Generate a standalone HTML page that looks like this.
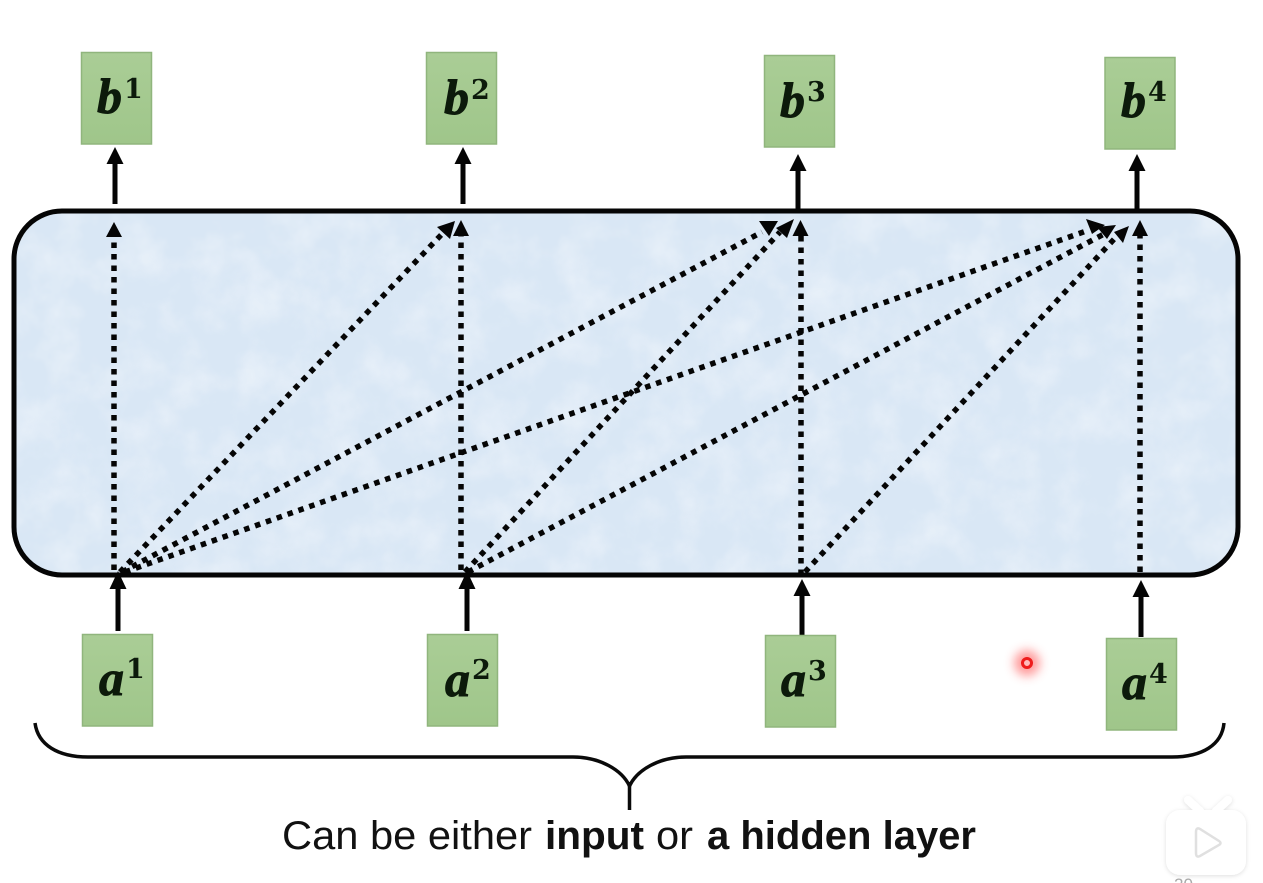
<!DOCTYPE html>
<html>
<head>
<meta charset="utf-8">
<style>
html,body{margin:0;padding:0;background:#fff;width:1263px;height:883px;overflow:hidden}
svg{display:block}
.m{font-family:"Liberation Serif","DejaVu Serif",serif;font-weight:bold;font-style:italic;font-size:50px;fill:#0c1a0b;stroke:#0c1a0b;stroke-width:.9}
.s{font-family:"DejaVu Serif","Liberation Serif",serif;font-weight:bold;font-size:27px;fill:#0c1a0b}
.c{font-family:"Liberation Sans",sans-serif;font-size:40px;fill:#111}
.d{stroke:#050505;stroke-width:5.500;stroke-dasharray:5.500 6;fill:none}
.a{stroke:#050505;stroke-width:5;fill:none}
</style>
</head>
<body>
<svg width="1263" height="883" viewBox="0 0 1263 883" xmlns="http://www.w3.org/2000/svg">
<defs>
<linearGradient id="g" x1="0" y1="0" x2="0" y2="1"><stop offset="0" stop-color="#aacd96"/><stop offset="1" stop-color="#9fc68a"/></linearGradient>
<filter id="n" x="0" y="0" width="100%" height="100%"><feTurbulence type="fractalNoise" baseFrequency="0.025" numOctaves="4" seed="7"/><feColorMatrix values="0 0 0 0 1  0 0 0 0 1  0 0 0 0 1  0 0 0 1.800 -0.700"/></filter>
<filter id="b" x="-100%" y="-100%" width="300%" height="300%"><feGaussianBlur stdDeviation="5"/></filter>
<filter id="sh" x="-20%" y="-20%" width="140%" height="140%"><feDropShadow dx="0" dy="1" stdDeviation="2" flood-color="#000" flood-opacity=".13"/></filter>
<clipPath id="r"><rect x="14" y="211" width="1224" height="364" rx="48"/></clipPath>
</defs>

<rect x="14" y="211" width="1224" height="364" rx="48" fill="#d9e7f5"/>
<g clip-path="url(#r)"><rect x="14" y="211" width="1224" height="364" filter="url(#n)" opacity=".4"/></g>

<g>
<path class="d" d="M114 570V236"/>
<path class="d" d="M120 572L442 234"/>
<path class="d" d="M122 572L762 232"/>
<path class="d" d="M125 572L1089 230"/>
<path class="d" d="M461 570V236"/>
<path class="d" d="M465 572L780 232"/>
<path class="d" d="M468 572L1104 234"/>
<path class="d" d="M801 575V236"/>
<path class="d" d="M805 572L1117 236"/>
<path class="d" d="M1140 572V236"/>
</g>
<g fill="#050505">
<path d="M114 222l8 15h-16z"/>
<path d="M461 220l8 16h-16z"/>
<path d="M800.500 220l8 16h-16z"/>
<path d="M1140 220l8 16h-16z"/>
<path d="M455 221l-5 18-13-12z"/>
<path d="M759 221h19l-9 15z"/>
<path d="M794 219l-7 19-11-10z"/>
<path d="M1105 225l-19-6 6 15z"/>
<path d="M1116 225l-19 2 10 12z"/>
<path d="M1129 226l-15 6 9 11z"/>
</g>

<rect x="14" y="211" width="1224" height="364" rx="48" fill="none" stroke="#050505" stroke-width="5"/>

<g>
<path class="a" d="M115 204V164"/>
<path class="a" d="M463 204V164"/>
<path class="a" d="M798 209V170"/>
<path class="a" d="M1137 209V170"/>
<path class="a" d="M118 631V586"/>
<path class="a" d="M467 631V586"/>
<path class="a" d="M802 635V595"/>
<path class="a" d="M1141 637V596"/>
</g>
<g fill="#050505">
<path d="M115 147l8.500 17h-17z"/>
<path d="M463 147l8.500 17h-17z"/>
<path d="M798 154l8.500 17h-17z"/>
<path d="M1137 154l8.500 17h-17z"/>
<path d="M118 571l8.500 18h-17z"/>
<path d="M467 571l8.500 18h-17z"/>
<path d="M802 579l8.500 17h-17z"/>
<path d="M1141 580l8.500 17h-17z"/>
</g>

<g fill="url(#g)" stroke="#90b57d" stroke-width="1.500">
<rect x="81.500" y="52.500" width="70" height="91.500"/>
<rect x="426.500" y="52.500" width="70" height="91.500"/>
<rect x="764.500" y="55.500" width="70" height="91.500"/>
<rect x="1105" y="57.500" width="70" height="91.500"/>
<rect x="82.500" y="634.500" width="70" height="91.500"/>
<rect x="427.500" y="634.500" width="70" height="91.500"/>
<rect x="765.500" y="635.500" width="70" height="91.500"/>
<rect x="1106.500" y="638.500" width="70" height="91.500"/>
</g>

<text class="m" x="97" y="113">b</text><text class="s" x="124" y="98">1</text>
<text class="m" x="444" y="114">b</text><text class="s" x="471" y="99">2</text>
<text class="m" x="780" y="117">b</text><text class="s" x="807" y="101">3</text>
<text class="m" x="1121" y="117">b</text><text class="s" x="1148" y="101">4</text>
<text class="m" x="99" y="695">a</text><text class="s" x="126" y="678">1</text>
<text class="m" x="445" y="696">a</text><text class="s" x="472" y="679">2</text>
<text class="m" x="781" y="696">a</text><text class="s" x="808" y="680">3</text>
<text class="m" x="1122" y="699">a</text><text class="s" x="1149" y="683">4</text>

<path d="M35 723C38 745 58 757 88 757H573C600 757 622 770 629.500 786C637 770 659 757 686 757H1172C1202 757 1222 745 1224 723" fill="none" stroke="#0a0a0a" stroke-width="3.500"/>
<path d="M629.500 782V810" stroke="#0a0a0a" stroke-width="3.500"/>

<text class="c" x="282" y="849" textLength="250" lengthAdjust="spacingAndGlyphs">Can be either</text>
<text class="c" x="545" y="849" textLength="99" lengthAdjust="spacingAndGlyphs" font-weight="bold">input</text>
<text class="c" x="656" y="849" textLength="37" lengthAdjust="spacingAndGlyphs">or</text>
<text class="c" x="707" y="849" textLength="269" lengthAdjust="spacingAndGlyphs" font-weight="bold">a hidden layer</text>

<circle cx="1027" cy="663" r="13" fill="#ff5a5a" opacity=".6" filter="url(#b)"/>
<circle cx="1027" cy="663" r="4.500" fill="#fbb" stroke="#ee1c1c" stroke-width="3"/>

<g filter="url(#sh)">
<path d="M1188 800L1200 811M1228 800L1216 811" stroke="#fff" stroke-width="8" stroke-linecap="round"/>
<rect x="1166" y="810" width="80" height="65" rx="14" fill="#fff"/>
</g>
<path d="M1196 832Q1196 827 1200 829L1219 841Q1222 843 1219 845L1200 856Q1196 858 1196 853Z" fill="#fff" stroke="#e0e0e0" stroke-width="2.500"/>
<text x="1174" y="890" font-family="Liberation Sans,sans-serif" font-size="17" fill="#aaa">20</text>
</svg>
</body>
</html>
